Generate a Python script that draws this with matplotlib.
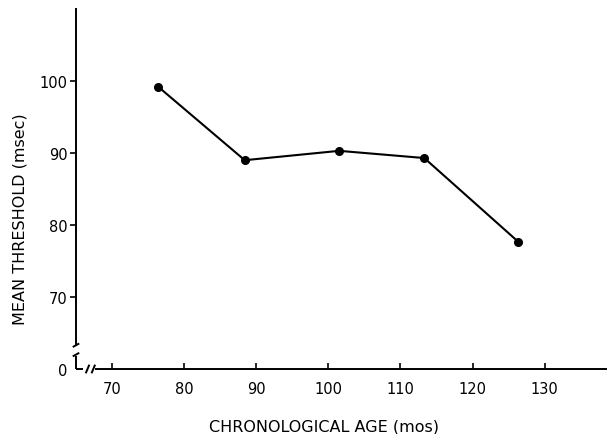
import matplotlib
matplotlib.use("Agg")
import matplotlib.pyplot as plt

# Data
age_months = [76.4, 88.4, 101.5, 113.3, 126.3]
mean_threshold = [99.2, 89.0, 90.3, 89.3, 77.7]

x_ticks = [70, 80, 90, 100, 110, 120, 130]
y_ticks = [60, 70, 80, 90, 100]
y_tick_labels = ["0", "70", "80", "90", "100"]

x_label = "CHRONOLOGICAL AGE (mos)"
y_label = "MEAN THRESHOLD (msec)"

# axis limits and break positions (data units)
x_lim = (65, 138.5)
y_lim = (60, 110)
y_breaks = (62.0, 63.3)
x_breaks = (66.6, 67.4)

plt.rcParams["font.family"] = ["DejaVu Sans"]

fig = plt.figure(figsize=(6.07, 4.35), dpi=100)
ax = fig.add_axes([76 / 607, 1 - 370 / 435, 530 / 607, 360 / 435])

ax.plot(age_months, mean_threshold, color="black", lw=1.5,
        marker="o", markersize=5.5, clip_on=False)

ax.set_xlim(*x_lim)
ax.set_ylim(*y_lim)

for side in ("top", "right"):
    ax.spines[side].set_visible(False)
ax.spines["left"].set_bounds(y_breaks[1] + 0.2, y_lim[1])
ax.spines["bottom"].set_bounds(x_breaks[1] + 0.4, x_lim[1])
for s in ("left", "bottom"):
    ax.spines[s].set_linewidth(1.4)

# short axis stubs below / left of the breaks (the "L" at the corner)
lk = dict(color="black", lw=1.4, clip_on=False, solid_capstyle="butt")
ax.plot([x_lim[0], x_lim[0]], [y_lim[0], y_breaks[0] - 0.2], **lk)
ax.plot([x_lim[0], x_breaks[0] - 0.6], [y_lim[0], y_lim[0]], **lk)

# break slashes
for yb in y_breaks:
    ax.plot([x_lim[0] - 0.45, x_lim[0] + 0.45], [yb - 0.25, yb + 0.25], **lk)
for xb in x_breaks:
    ax.plot([xb - 0.25, xb + 0.25], [y_lim[0] - 0.6, y_lim[0] + 0.6], **lk)

ax.set_xticks(x_ticks)
ax.set_xticklabels([str(t) for t in x_ticks])
ax.set_yticks(y_ticks)
ax.set_yticklabels(y_tick_labels)
ax.tick_params(axis="x", direction="in", length=4, width=1.2, pad=9, labelsize=10.5)
ax.tick_params(axis="y", direction="out", length=4, width=1.2, pad=2, labelsize=10.5)
ax.yaxis.get_major_ticks()[0].tick1line.set_visible(False)

fig.text(324 / 607, 1 - 427 / 435, x_label, ha="center", va="center", fontsize=11.5)
fig.text(20 / 607, 1 - 219 / 435, y_label, ha="center", va="center",
         rotation=90, fontsize=11.5)

fig.savefig("out.png", dpi=100)
